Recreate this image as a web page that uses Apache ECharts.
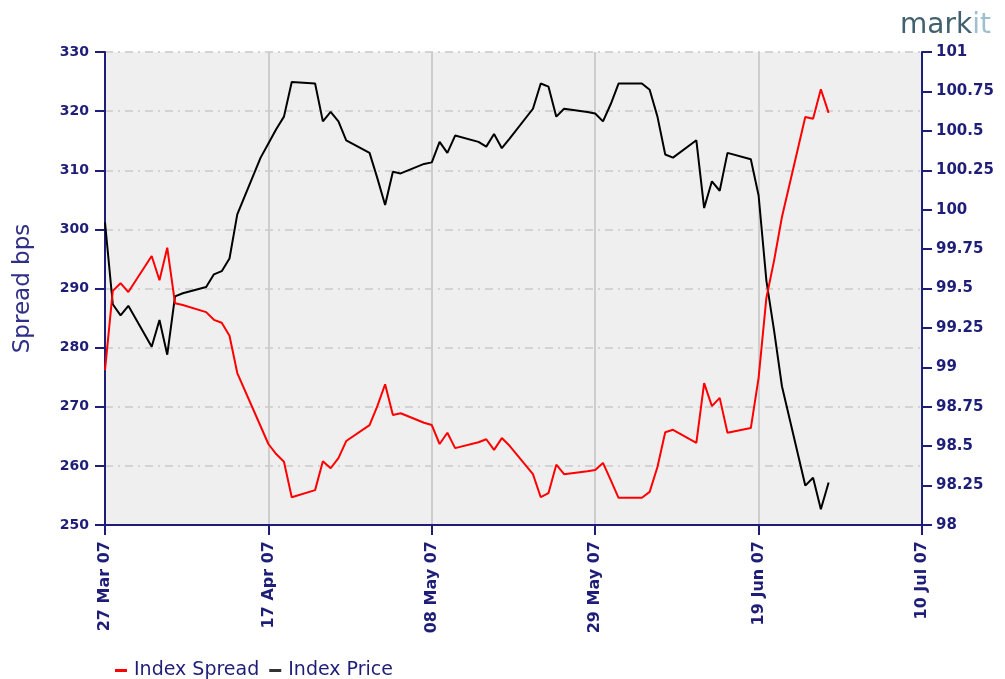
<!DOCTYPE html>
<html>
<head>
<meta charset="utf-8">
<script src="https://cdn.jsdelivr.net/npm/echarts@6/dist/echarts.min.js"></script>
<style>
  html, body { margin: 0; padding: 0; background: #fff; }
  #chart { width: 1005px; height: 679px; }
</style>
</head>
<body>
<div id="chart"></div>
<script>
// trading days shown on the chart
const dates = [
  '2007-03-27', '2007-03-28', '2007-03-29', '2007-03-30',
  '2007-04-02', '2007-04-03', '2007-04-04', '2007-04-05', '2007-04-06',
  '2007-04-09', '2007-04-10', '2007-04-11', '2007-04-12', '2007-04-13',
  '2007-04-16', '2007-04-17', '2007-04-18', '2007-04-19', '2007-04-20',
  '2007-04-23', '2007-04-24', '2007-04-25', '2007-04-26', '2007-04-27',
  '2007-04-30', '2007-05-01', '2007-05-02', '2007-05-03', '2007-05-04',
  '2007-05-07', '2007-05-08', '2007-05-09', '2007-05-10', '2007-05-11',
  '2007-05-14', '2007-05-15', '2007-05-16', '2007-05-17', '2007-05-18',
  '2007-05-21', '2007-05-22', '2007-05-23', '2007-05-24', '2007-05-25',
  '2007-05-28', '2007-05-29', '2007-05-30', '2007-05-31', '2007-06-01',
  '2007-06-04', '2007-06-05', '2007-06-06', '2007-06-07', '2007-06-08',
  '2007-06-11', '2007-06-12', '2007-06-13', '2007-06-14', '2007-06-15',
  '2007-06-18', '2007-06-19', '2007-06-20', '2007-06-21', '2007-06-22',
  '2007-06-25', '2007-06-26', '2007-06-27', '2007-06-28'
];

const indexSpread = [
  276.2, 289.6, 290.9, 289.4,
  295.5, 291.4, 296.9, 287.5, 287.2,
  286.0, 284.7, 284.2, 282.0, 275.7,
  266.7, 263.7, 262.0, 260.7, 254.7,
  255.9, 260.8, 259.6, 261.3, 264.2,
  266.9, 270.1, 273.8, 268.6, 268.9,
  267.3, 266.9, 263.7, 265.6, 263.0,
  264.0, 264.5, 262.7, 264.7, 263.4,
  258.6, 254.7, 255.4, 260.2, 258.6,
  259.1, 259.3, 260.5, 257.6, 254.6,
  254.6, 255.6, 259.8, 265.7, 266.1,
  263.9, 274.0, 270.1, 271.5, 265.6,
  266.4, 274.9, 288.4, 294.8, 302.1,
  319.0, 318.7, 323.7, 319.7
];

const indexPrice = [
  99.92, 99.40, 99.33, 99.39,
  99.13, 99.30, 99.08, 99.45, 99.47,
  99.51, 99.59, 99.61, 99.69, 99.97,
  100.33, 100.42, 100.51, 100.59, 100.81,
  100.80, 100.56, 100.62, 100.56, 100.44,
  100.36, 100.20, 100.03, 100.24, 100.23,
  100.29, 100.30, 100.43, 100.36, 100.47,
  100.43, 100.40, 100.48, 100.39, 100.45,
  100.64, 100.80, 100.78, 100.59, 100.64,
  100.62, 100.61, 100.56, 100.67, 100.80,
  100.80, 100.76, 100.59, 100.35, 100.33,
  100.44, 100.01, 100.18, 100.12, 100.36,
  100.32, 100.09, 99.55, 99.23, 98.88,
  98.25, 98.30, 98.10, 98.27
];

// x axis runs 27 Mar 07 .. 10 Jul 07, a tick every 21 days
const startDate = '2007-03-27';
const axisDays = 105;
const tickDays = 21;
const monthNames = ['Jan', 'Feb', 'Mar', 'Apr', 'May', 'Jun', 'Jul', 'Aug', 'Sep', 'Oct', 'Nov', 'Dec'];

const DAY = 86400000;
const t0 = Date.parse(startDate + 'T00:00:00Z');
const dayOffset = (d) => (Date.parse(d + 'T00:00:00Z') - t0) / DAY;
const dayLabel = (v) => {
  const d = new Date(t0 + v * DAY);
  const dd = String(d.getUTCDate()).padStart(2, '0');
  const yy = String(d.getUTCFullYear()).slice(2);
  return dd + ' ' + monthNames[d.getUTCMonth()] + ' ' + yy;
};

const navy = '#1e1e78';
const gridGrey = '#d3d3d3';
const labelFont = {
  color: navy,
  fontFamily: 'DejaVu Sans',
  fontWeight: 'bold',
  fontSize: 14
};

const chart = echarts.init(document.getElementById('chart'));

chart.setOption({
  animation: false,
  backgroundColor: '#ffffff',
  grid: {
    left: 105,
    right: 83,
    top: 52,
    bottom: 154,
    show: true,
    backgroundColor: '#efefef',
    borderWidth: 0
  },
  graphic: [
    {
      type: 'text',
      right: 14,
      top: 12,
      style: {
        text: '{a|mark}{b|it}',
        rich: {
          a: { fill: '#41616f', fontSize: 28, fontFamily: 'DejaVu Sans' },
          b: { fill: '#9ebfcd', fontSize: 28, fontFamily: 'DejaVu Sans' }
        }
      }
    }
  ],
  legend: {
    left: 110,
    top: 656,
    itemWidth: 12,
    itemHeight: 3,
    itemGap: 10,
    icon: 'rect',
    textStyle: {
      color: navy,
      fontFamily: 'DejaVu Sans',
      fontSize: 19,
      padding: [0, 0, 0, 2]
    },
    data: ['Index Spread', 'Index Price']
  },
  xAxis: {
    type: 'value',
    min: 0,
    max: axisDays,
    interval: tickDays,
    axisLine: { show: true, onZero: false, lineStyle: { color: navy, width: 2 } },
    axisTick: { show: true, length: 10, lineStyle: { color: navy, width: 2 } },
    axisLabel: Object.assign({}, labelFont, {
      rotate: 90,
      margin: 16,
      fontSize: 16,
      formatter: dayLabel
    }),
    splitLine: { show: true, lineStyle: { color: '#cdcdcd', width: 2 } }
  },
  yAxis: [
    {
      type: 'value',
      position: 'left',
      min: 250,
      max: 330,
      interval: 10,
      name: 'Spread bps',
      nameLocation: 'middle',
      nameGap: 70,
      nameTextStyle: {
        color: '#2f2f88',
        fontFamily: 'DejaVu Sans',
        fontSize: 23
      },
      axisLine: { show: true, lineStyle: { color: navy, width: 2 } },
      axisTick: { show: true, length: 10, lineStyle: { color: navy, width: 2 } },
      axisLabel: Object.assign({}, labelFont, { margin: 16 }),
      splitLine: {
        show: true,
        lineStyle: { color: gridGrey, width: 2, type: [8, 5, 2, 5] }
      }
    },
    {
      type: 'value',
      position: 'right',
      min: 98,
      max: 101,
      interval: 0.25,
      axisLine: { show: true, lineStyle: { color: navy, width: 2 } },
      axisTick: { show: true, length: 10, lineStyle: { color: navy, width: 2 } },
      axisLabel: Object.assign({}, labelFont, { margin: 14, fontSize: 15 }),
      splitLine: { show: false }
    }
  ],
  series: [
    {
      name: 'Index Price',
      type: 'line',
      yAxisIndex: 1,
      symbol: 'none',
      lineStyle: { color: '#000000', width: 2 },
      itemStyle: { color: '#333333' },
      data: dates.map((d, i) => [dayOffset(d), indexPrice[i]])
    },
    {
      name: 'Index Spread',
      type: 'line',
      yAxisIndex: 0,
      symbol: 'none',
      lineStyle: { color: '#ff0000', width: 2 },
      itemStyle: { color: '#ff0000' },
      data: dates.map((d, i) => [dayOffset(d), indexSpread[i]])
    }
  ]
});
</script>
</body>
</html>
